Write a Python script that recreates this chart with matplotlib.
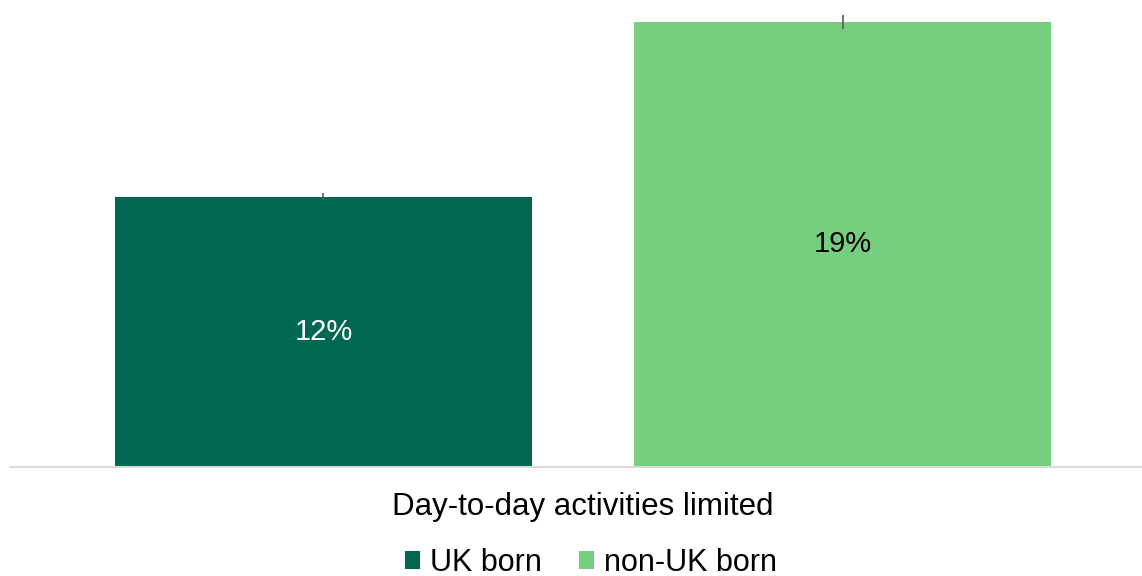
import matplotlib.pyplot as plt

plt.rcParams['font.family'] = ['Liberation Sans', 'DejaVu Sans']

category = 'Day-to-day activities limited'
groups = ['UK born', 'non-UK born']
values = [11.6, 19.1]
errors = [0.15, 0.3]
colors = ['#00684F', '#76CE7E']
label_colors = ['white', 'black']

fig = plt.figure(figsize=(11.42, 5.76), dpi=100)
ax = fig.add_axes([10 / 1142, 109 / 576, 1132 / 1142, 467 / 576])

width = 0.4
offsets = [-0.249, 0.249]
for i, g in enumerate(groups):
    ax.bar(offsets[i], values[i], width=width, color=colors[i], label=g,
           yerr=errors[i], ecolor='#595959', error_kw={'elinewidth': 1.2, 'capsize': 0})
    ax.text(offsets[i], values[i] / 2, f'{values[i]:.0f}%', ha='center', va='center',
            fontsize=21, color=label_colors[i])

ax.set_xlim(-0.5496, 0.5362)
ax.set_ylim(0, 20.04)
ax.set_xticks([0])
ax.set_xticklabels([category], fontsize=22.5)
ax.tick_params(axis='x', length=0, pad=18)
ax.set_yticks([])
for s in ['top', 'right', 'left']:
    ax.spines[s].set_visible(False)
ax.spines['bottom'].set_color('#D9D9D9')
ax.spines['bottom'].set_linewidth(1.5)

fig.legend(loc='center', bbox_to_anchor=(591 / 1142, 1 - 563 / 576), ncol=2, frameon=False,
           fontsize=22, handlelength=0.5, handleheight=0.5, handletextpad=0.33,
           columnspacing=1.2, borderpad=0)

fig.savefig('out.png', dpi=100)
